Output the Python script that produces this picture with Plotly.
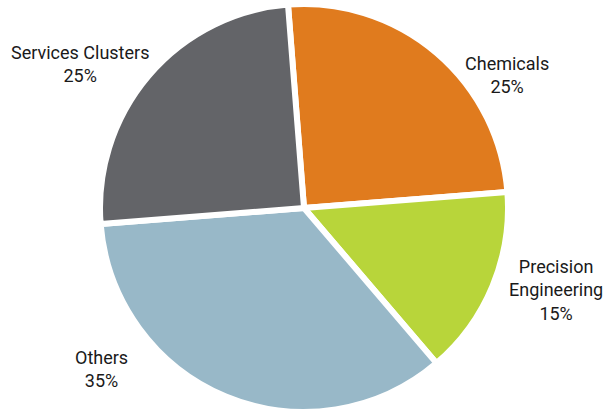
import plotly.graph_objects as go

# Sector shares
labels = ["Chemicals", "Precision<br>Engineering", "Others", "Services Clusters"]
values = [25, 15, 35, 25]
colors = ["#E07B1E", "#B8D53A", "#98B8C8", "#636468"]

# Label anchor points (pixel positions within the 604x412 canvas)
label_px = [(507, 75), (556, 290), (101, 369), (80, 64)]

W, H = 604, 412
cx, cy, r = 304, 208, 204

y0 = max(0.0, (H - cy - r) / H)
y1 = min(1.0, (H - cy + r) / H)

fig = go.Figure(
    go.Pie(
        labels=labels,
        values=values,
        sort=False,
        direction="clockwise",
        rotation=-4.5,
        marker=dict(colors=colors, line=dict(color="white", width=6)),
        textinfo="none",
        hoverinfo="label+percent",
        domain=dict(x=[(cx - r) / W, (cx + r) / W], y=[y0, y1]),
        showlegend=False,
    )
)

total = sum(values)
for lab, val, (px, py) in zip(labels, values, label_px):
    fig.add_annotation(
        x=px / W,
        y=1 - py / H,
        xref="paper",
        yref="paper",
        text=f"{lab}<br>{round(100 * val / total)}%",
        showarrow=False,
        font=dict(family="Roboto", size=18, color="#1a1a1a"),
        align="center",
        xanchor="center",
        yanchor="middle",
    )

fig.update_layout(
    width=W,
    height=H,
    margin=dict(l=0, r=0, t=0, b=0),
    paper_bgcolor="white",
    plot_bgcolor="white",
)

fig.write_html("out.html")
